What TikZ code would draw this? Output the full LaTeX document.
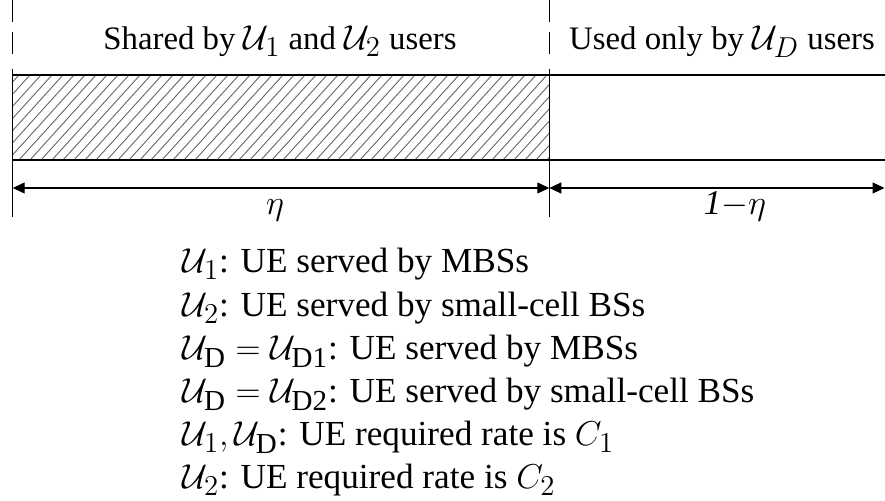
\documentclass[tikz,border=0pt]{standalone}
\usepackage{fontspec}
\setmainfont{Liberation Serif}
\usetikzlibrary{arrows.meta}
\DeclareMathSizes{16.4}{17.4}{13.5}{10}
\DeclareMathSizes{17.6}{18.4}{14.5}{11}

\begin{document}
\begin{tikzpicture}[x=0.5pt,y=-0.5pt,
  dim/.style={{Triangle[length=6pt,width=5.5pt]}-{Triangle[length=6pt,width=5.5pt]},line width=0.6pt},
  lbl/.style={font=\fontsize{16.4}{19}\selectfont,anchor=base,inner sep=0pt},
  leg/.style={font=\fontsize{17.6}{20}\selectfont,anchor=base west,inner sep=0pt}]
\useasboundingbox (0,0) rectangle (885,501);

% hatched share of the band
\begin{scope}
\clip (12.7,75) rectangle (549.3,160);
\foreach \i in {-80,-69,...,560}
  \draw[gray!80!black,line width=0.45pt] (\i,160) -- ++(77,-85);
\end{scope}
\draw[line width=0.6pt] (12.7,75) -- (885,75);
\draw[line width=0.6pt] (12.7,160) -- (885,160);

% split marks
\foreach \x in {12.7,549.3} {
  \draw[line width=0.6pt,dash pattern=on 11pt off 5pt] (\x,0) -- (\x,57);
  \draw[line width=0.6pt] (\x,69) -- (\x,217);
}

\coordinate (a) at (12.7,188);
\coordinate (b) at (549.3,188);
\coordinate (c) at (884.5,188);
\draw[dim] (a) -- (b);
\draw[dim] (b) -- (c);

\node[lbl] (shared) at (280,50) {Shared by $\mathcal{U}_1$ and $\mathcal{U}_2$ users};
\node[lbl] (only) at (722,50) {Used only by $\mathcal{U}_D$ users};
\node[lbl] (eta) at (275,215) {$\eta$};
\node[lbl] (rest) at (735,215) {$\mathit{1}{-}\eta$};

% legend
\node[leg] (leg1) at (182,273) {$\mathcal{U}_1$: UE served by MBSs};
\node[leg] (leg2) at (182,316.5) {$\mathcal{U}_2$: UE served by small-cell BSs};
\node[leg] (leg3) at (182,360) {$\mathcal{U}_\mathrm{D}=\mathcal{U}_\mathrm{D1}$: UE served by MBSs};
\node[leg] (leg4) at (182,403) {$\mathcal{U}_\mathrm{D}=\mathcal{U}_\mathrm{D2}$: UE served by small-cell BSs};
\node[leg] (leg5) at (182,446) {$\mathcal{U}_1,\mathcal{U}_\mathrm{D}$: UE required rate is $C_1$};
\node[leg] (leg6) at (182,489) {$\mathcal{U}_2$: UE required rate is $C_2$};
\end{tikzpicture}
\end{document}
